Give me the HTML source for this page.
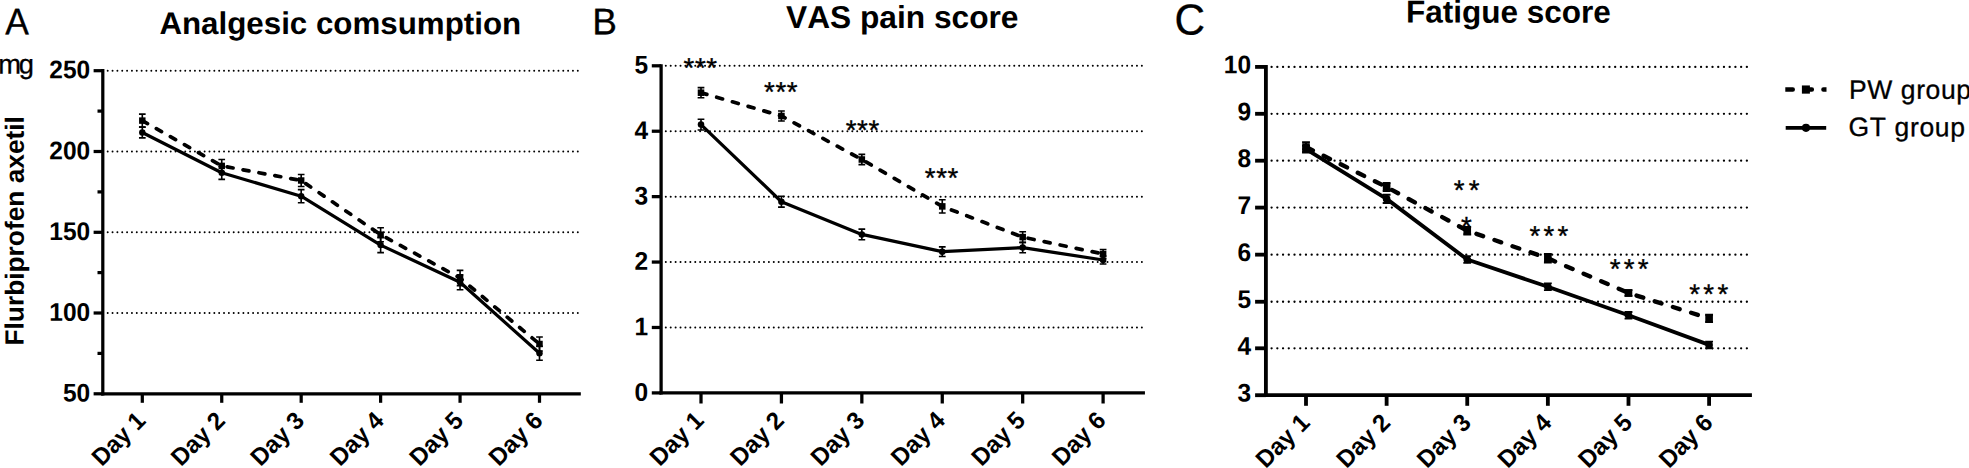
<!DOCTYPE html>
<html lang="en"><head><meta charset="utf-8"><title>Analgesic consumption, VAS pain score, Fatigue score</title>
<style>html,body{margin:0;padding:0;background:#fff;}body{width:1969px;height:468px;overflow:hidden;}svg{display:block;}text{font-family:"Liberation Sans", Arial, Helvetica, sans-serif;fill:#000;font-kerning:none;}.b{font-weight:bold;}</style></head><body>
<svg width="1969" height="468" viewBox="0 0 1969 468">
<rect x="0" y="0" width="1969" height="468" fill="#fff"/>
<g id="chartA">
<g stroke="#000" stroke-width="1.95" stroke-linecap="round" stroke-dasharray="0.01 4.8364" fill="none">
<line x1="107.7" y1="70.7" x2="578.3" y2="70.7"/>
<line x1="107.7" y1="151.5" x2="578.3" y2="151.5"/>
<line x1="107.7" y1="232.3" x2="578.3" y2="232.3"/>
<line x1="107.7" y1="313" x2="578.3" y2="313"/>
</g>
<g stroke="#000" stroke-width="3.23" fill="none" stroke-linecap="butt">
<path d="M102.8 69.08V395.42"/>
<path d="M101.18 393.8H580.82"/>
<path d="M93.61 70.7H102.8"/>
<path d="M93.61 151.5H102.8"/>
<path d="M93.61 232.3H102.8"/>
<path d="M93.61 313H102.8"/>
<path d="M93.61 393.8H102.8"/>
<path d="M97.5 111.1H102.8"/>
<path d="M97.5 191.9H102.8"/>
<path d="M97.5 272.6H102.8"/>
<path d="M97.5 353.4H102.8"/>
<path d="M142.3 393.8V402.8"/>
<path d="M221.74 393.8V402.8"/>
<path d="M301.18 393.8V402.8"/>
<path d="M380.62 393.8V402.8"/>
<path d="M460.06 393.8V402.8"/>
<path d="M539.5 393.8V402.8"/>
</g>
<g class="b" font-size="24.5" text-anchor="end">
<text transform="translate(90.2 78.35) rotate(0.03) scale(1 1.04)">250</text>
<text transform="translate(90.2 159.15) rotate(0.03) scale(1 1.04)">200</text>
<text transform="translate(90.2 239.95) rotate(0.03) scale(1 1.04)">150</text>
<text transform="translate(90.2 320.65) rotate(0.03) scale(1 1.04)">100</text>
<text transform="translate(90.2 401.45) rotate(0.03) scale(1 1.04)">50</text>
</g>
<g class="b" font-size="24" text-anchor="end">
<text transform="translate(146.9 422) rotate(-45) scale(1 1.02)">Day 1</text>
<text transform="translate(226.34 422) rotate(-45) scale(1 1.02)">Day 2</text>
<text transform="translate(305.78 422) rotate(-45) scale(1 1.02)">Day 3</text>
<text transform="translate(385.22 422) rotate(-45) scale(1 1.02)">Day 4</text>
<text transform="translate(464.66 422) rotate(-45) scale(1 1.02)">Day 5</text>
<text transform="translate(544.1 422) rotate(-45) scale(1 1.02)">Day 6</text>
</g>
<polyline points="142.3,120.6 221.74,165.9 301.18,180.5 380.62,234.7 460.06,278 539.5,344" fill="none" stroke="#000" stroke-width="3.72" stroke-linecap="round" stroke-linejoin="round" stroke-dasharray="5.98 10.18" stroke-dashoffset="0"/>
<polyline points="142.3,132.5 221.74,172.8 301.18,196.2 380.62,245.1 460.06,282.2 539.5,353.3" fill="none" stroke="#000" stroke-width="3.23" stroke-linejoin="round"/>
<g stroke="#000" stroke-width="1.62" fill="none">
<path d="M142.3 114.1V127.1M138.97 114.1H145.63M138.97 127.1H145.63"/>
<path d="M221.74 159.5V172.3M218.41 159.5H225.07M218.41 172.3H225.07"/>
<path d="M301.18 174.5V186.5M297.85 174.5H304.51M297.85 186.5H304.51"/>
<path d="M380.62 227.7V241.7M377.29 227.7H383.95M377.29 241.7H383.95"/>
<path d="M460.06 270.4V285.6M456.73 270.4H463.39M456.73 285.6H463.39"/>
<path d="M539.5 337V351M536.17 337H542.83M536.17 351H542.83"/>
<path d="M142.3 127.1V137.9M138.97 127.1H145.63M138.97 137.9H145.63"/>
<path d="M221.74 166.2V179.4M218.41 166.2H225.07M218.41 179.4H225.07"/>
<path d="M301.18 189.6V202.8M297.85 189.6H304.51M297.85 202.8H304.51"/>
<path d="M380.62 237.6V252.6M377.29 237.6H383.95M377.29 252.6H383.95"/>
<path d="M460.06 274.7V289.7M456.73 274.7H463.39M456.73 289.7H463.39"/>
<path d="M539.5 346.3V360.3M536.17 346.3H542.83M536.17 360.3H542.83"/>
</g>
<rect x="139.07" y="117.37" width="6.46" height="6.46"/>
<rect x="218.51" y="162.67" width="6.46" height="6.46"/>
<rect x="297.95" y="177.27" width="6.46" height="6.46"/>
<rect x="377.39" y="231.47" width="6.46" height="6.46"/>
<rect x="456.83" y="274.77" width="6.46" height="6.46"/>
<rect x="536.27" y="340.77" width="6.46" height="6.46"/>
<circle cx="142.3" cy="132.5" r="3.23"/>
<circle cx="221.74" cy="172.8" r="3.23"/>
<circle cx="301.18" cy="196.2" r="3.23"/>
<circle cx="380.62" cy="245.1" r="3.23"/>
<circle cx="460.06" cy="282.2" r="3.23"/>
<circle cx="539.5" cy="353.3" r="3.23"/>
</g>
<g id="chartB">
<g stroke="#000" stroke-width="2" stroke-linecap="round" stroke-dasharray="0.01 4.8978" fill="none">
<line x1="665.8" y1="65.8" x2="1142.36" y2="65.8"/>
<line x1="665.8" y1="131.22" x2="1142.36" y2="131.22"/>
<line x1="665.8" y1="196.64" x2="1142.36" y2="196.64"/>
<line x1="665.8" y1="262.06" x2="1142.36" y2="262.06"/>
<line x1="665.8" y1="327.48" x2="1142.36" y2="327.48"/>
</g>
<g stroke="#000" stroke-width="3.27" fill="none" stroke-linecap="butt">
<path d="M661.1 64.16V394.54"/>
<path d="M659.46 392.9H1144.94"/>
<path d="M651.79 65.8H661.1"/>
<path d="M651.79 131.22H661.1"/>
<path d="M651.79 196.64H661.1"/>
<path d="M651.79 262.06H661.1"/>
<path d="M651.79 327.48H661.1"/>
<path d="M651.79 392.9H661.1"/>
<path d="M701 392.9V403.5"/>
<path d="M781.42 392.9V403.5"/>
<path d="M861.84 392.9V403.5"/>
<path d="M942.26 392.9V403.5"/>
<path d="M1022.68 392.9V403.5"/>
<path d="M1103.1 392.9V403.5"/>
</g>
<g class="b" font-size="24.5" text-anchor="end">
<text transform="translate(648.2 73.55) rotate(0.03) scale(1 1.04)">5</text>
<text transform="translate(648.2 138.97) rotate(0.03) scale(1 1.04)">4</text>
<text transform="translate(648.2 204.39) rotate(0.03) scale(1 1.04)">3</text>
<text transform="translate(648.2 269.81) rotate(0.03) scale(1 1.04)">2</text>
<text transform="translate(648.2 335.23) rotate(0.03) scale(1 1.04)">1</text>
<text transform="translate(648.2 400.65) rotate(0.03) scale(1 1.04)">0</text>
</g>
<g class="b" font-size="24" text-anchor="end">
<text transform="translate(705.1 421.9) rotate(-45) scale(1 1.02)">Day 1</text>
<text transform="translate(785.52 421.9) rotate(-45) scale(1 1.02)">Day 2</text>
<text transform="translate(865.94 421.9) rotate(-45) scale(1 1.02)">Day 3</text>
<text transform="translate(946.36 421.9) rotate(-45) scale(1 1.02)">Day 4</text>
<text transform="translate(1026.78 421.9) rotate(-45) scale(1 1.02)">Day 5</text>
<text transform="translate(1107.2 421.9) rotate(-45) scale(1 1.02)">Day 6</text>
</g>
<polyline points="701,92.7 781.42,116 861.84,159.5 942.26,206.4 1022.68,237.1 1103.1,254" fill="none" stroke="#000" stroke-width="3.76" stroke-linecap="round" stroke-linejoin="round" stroke-dasharray="6.05 10.31" stroke-dashoffset="0"/>
<polyline points="701,124.6 781.42,201.7 861.84,234.4 942.26,251.7 1022.68,247.6 1103.1,260" fill="none" stroke="#000" stroke-width="3.27" stroke-linejoin="round"/>
<g stroke="#000" stroke-width="1.64" fill="none">
<path d="M701 87.6V97.8M697.63 87.6H704.37M697.63 97.8H704.37"/>
<path d="M781.42 111V121M778.05 111H784.79M778.05 121H784.79"/>
<path d="M861.84 154.4V164.6M858.47 154.4H865.21M858.47 164.6H865.21"/>
<path d="M942.26 199.8V213M938.89 199.8H945.63M938.89 213H945.63"/>
<path d="M1022.68 231.7V242.5M1019.31 231.7H1026.05M1019.31 242.5H1026.05"/>
<path d="M1103.1 249.5V258.5M1099.73 249.5H1106.47M1099.73 258.5H1106.47"/>
<path d="M701 119.2V130M697.63 119.2H704.37M697.63 130H704.37"/>
<path d="M781.42 196.3V207.1M778.05 196.3H784.79M778.05 207.1H784.79"/>
<path d="M861.84 229.1V239.7M858.47 229.1H865.21M858.47 239.7H865.21"/>
<path d="M942.26 246.9V256.5M938.89 246.9H945.63M938.89 256.5H945.63"/>
<path d="M1022.68 242.4V252.8M1019.31 242.4H1026.05M1019.31 252.8H1026.05"/>
<path d="M1103.1 256V264M1099.73 256H1106.47M1099.73 264H1106.47"/>
</g>
<rect x="697.73" y="89.43" width="6.54" height="6.54"/>
<rect x="778.15" y="112.73" width="6.54" height="6.54"/>
<rect x="858.57" y="156.23" width="6.54" height="6.54"/>
<rect x="938.99" y="203.13" width="6.54" height="6.54"/>
<rect x="1019.41" y="233.83" width="6.54" height="6.54"/>
<rect x="1099.83" y="250.73" width="6.54" height="6.54"/>
<circle cx="701" cy="124.6" r="3.27"/>
<circle cx="781.42" cy="201.7" r="3.27"/>
<circle cx="861.84" cy="234.4" r="3.27"/>
<circle cx="942.26" cy="251.7" r="3.27"/>
<circle cx="1022.68" cy="247.6" r="3.27"/>
<circle cx="1103.1" cy="260" r="3.27"/>
</g>
<g id="chartC">
<g stroke="#000" stroke-width="2.3" stroke-linecap="round" stroke-dasharray="0.01 5.7160" fill="none">
<line x1="1271.6" y1="66.9" x2="1747.36" y2="66.9"/>
<line x1="1271.6" y1="113.8" x2="1747.36" y2="113.8"/>
<line x1="1271.6" y1="160.7" x2="1747.36" y2="160.7"/>
<line x1="1271.6" y1="207.6" x2="1747.36" y2="207.6"/>
<line x1="1271.6" y1="254.65" x2="1747.36" y2="254.65"/>
<line x1="1271.6" y1="301.75" x2="1747.36" y2="301.75"/>
<line x1="1271.6" y1="348.3" x2="1747.36" y2="348.3"/>
</g>
<g stroke="#000" stroke-width="3.82" fill="none" stroke-linecap="butt">
<path d="M1265.9 64.99V397.11"/>
<path d="M1263.99 395.2H1751.91"/>
<path d="M1255.1 66.9H1265.9"/>
<path d="M1255.1 113.8H1265.9"/>
<path d="M1255.1 160.7H1265.9"/>
<path d="M1255.1 207.6H1265.9"/>
<path d="M1255.1 254.65H1265.9"/>
<path d="M1255.1 301.75H1265.9"/>
<path d="M1255.1 348.3H1265.9"/>
<path d="M1255.1 395.2H1265.9"/>
<path d="M1306 395.2V405.8"/>
<path d="M1386.62 395.2V405.8"/>
<path d="M1467.24 395.2V405.8"/>
<path d="M1547.86 395.2V405.8"/>
<path d="M1628.48 395.2V405.8"/>
<path d="M1709.1 395.2V405.8"/>
</g>
<g class="b" font-size="24.5" text-anchor="end">
<text transform="translate(1251.1 73.25) rotate(0.03) scale(1 1.04)">10</text>
<text transform="translate(1251.1 120.15) rotate(0.03) scale(1 1.04)">9</text>
<text transform="translate(1251.1 167.05) rotate(0.03) scale(1 1.04)">8</text>
<text transform="translate(1251.1 213.95) rotate(0.03) scale(1 1.04)">7</text>
<text transform="translate(1251.1 261) rotate(0.03) scale(1 1.04)">6</text>
<text transform="translate(1251.1 308.1) rotate(0.03) scale(1 1.04)">5</text>
<text transform="translate(1251.1 354.65) rotate(0.03) scale(1 1.04)">4</text>
<text transform="translate(1251.1 401.55) rotate(0.03) scale(1 1.04)">3</text>
</g>
<g class="b" font-size="24" text-anchor="end">
<text transform="translate(1311.1 424) rotate(-45) scale(1 1.02)">Day 1</text>
<text transform="translate(1391.72 424) rotate(-45) scale(1 1.02)">Day 2</text>
<text transform="translate(1472.34 424) rotate(-45) scale(1 1.02)">Day 3</text>
<text transform="translate(1552.96 424) rotate(-45) scale(1 1.02)">Day 4</text>
<text transform="translate(1633.58 424) rotate(-45) scale(1 1.02)">Day 5</text>
<text transform="translate(1714.2 424) rotate(-45) scale(1 1.02)">Day 6</text>
</g>
<polyline points="1306,147 1386.62,187.1 1467.24,230.7 1547.86,258.3 1628.48,293 1709.1,318.45" fill="none" stroke="#000" stroke-width="4.39" stroke-linecap="round" stroke-linejoin="round" stroke-dasharray="7.06 12.02" stroke-dashoffset="-0.6"/>
<polyline points="1306,149.2 1386.62,198.9 1467.24,259.5 1547.86,286.75 1628.48,315.3 1709.1,344.9" fill="none" stroke="#000" stroke-width="3.82" stroke-linejoin="round"/>
<g stroke="#000" stroke-width="1.91" fill="none">
<path d="M1306 142.15V151.85M1302.07 142.15H1309.93M1302.07 151.85H1309.93"/>
<path d="M1386.62 183.05V191.15M1382.69 183.05H1390.55M1382.69 191.15H1390.55"/>
<path d="M1467.24 226.85V234.55M1463.31 226.85H1471.17M1463.31 234.55H1471.17"/>
<path d="M1547.86 254.05V262.55M1543.93 254.05H1551.79M1543.93 262.55H1551.79"/>
<path d="M1628.48 290.1V295.9M1624.55 290.1H1632.41M1624.55 295.9H1632.41"/>
<path d="M1709.1 314.75V322.15M1705.17 314.75H1713.03M1705.17 322.15H1713.03"/>
<path d="M1306 145.9V152.5M1302.07 145.9H1309.93M1302.07 152.5H1309.93"/>
<path d="M1386.62 194.75V203.05M1382.69 194.75H1390.55M1382.69 203.05H1390.55"/>
<path d="M1467.24 256.1V262.9M1463.31 256.1H1471.17M1463.31 262.9H1471.17"/>
<path d="M1547.86 283.35V290.15M1543.93 283.35H1551.79M1543.93 290.15H1551.79"/>
<path d="M1628.48 312V318.6M1624.55 312H1632.41M1624.55 318.6H1632.41"/>
<path d="M1709.1 341.6V348.2M1705.17 341.6H1713.03M1705.17 348.2H1713.03"/>
</g>
<rect x="1302.18" y="143.18" width="7.63" height="7.63"/>
<rect x="1382.8" y="183.28" width="7.63" height="7.63"/>
<rect x="1463.42" y="226.88" width="7.63" height="7.63"/>
<rect x="1544.04" y="254.48" width="7.63" height="7.63"/>
<rect x="1624.66" y="289.18" width="7.63" height="7.63"/>
<rect x="1705.28" y="314.63" width="7.63" height="7.63"/>
<circle cx="1306" cy="149.2" r="3.82"/>
<circle cx="1386.62" cy="198.9" r="3.82"/>
<circle cx="1467.24" cy="259.5" r="3.82"/>
<circle cx="1547.86" cy="286.75" r="3.82"/>
<circle cx="1628.48" cy="315.3" r="3.82"/>
<circle cx="1709.1" cy="344.9" r="3.82"/>
</g>
<text transform="translate(159.4 34) rotate(0.03)" font-size="31.3" class="b">Analgesic comsumption</text>
<text transform="translate(786 27.9) rotate(0.03)" font-size="31.7" class="b">VAS pain score</text>
<text transform="translate(1405.9 22.6) rotate(0.03)" font-size="31.5" class="b">Fatigue score</text>
<text transform="translate(5.3 34.15) rotate(0.03) scale(1 1.045)" font-size="35.4" stroke="#000" stroke-width="0.3">A</text>
<text transform="translate(592.3 34.3) rotate(0.03)" font-size="37" stroke="#000" stroke-width="0.3">B</text>
<text transform="translate(1174.5 34.45) rotate(0.03) scale(1 1.03)" font-size="42.2" stroke="#000" stroke-width="0.3">C</text>
<text transform="translate(0 73.6) rotate(0.03)" x="-1.7 18.8" y="0" font-size="27.3" stroke="#000" stroke-width="0.3">mg</text>
<text transform="translate(23.6 345.5) rotate(-89.97)" font-size="26.3" class="b">Flurbiprofen axetil</text>
<g id="legend">
<clipPath id="lc"><rect x="1785.3" y="80" width="41.2" height="20"/></clipPath>
<path d="M1785.2 89.55H1830" clip-path="url(#lc)" fill="none" stroke="#000" stroke-width="4.4" stroke-linecap="round" stroke-dasharray="7.6 11.5"/>
<rect x="1801.9" y="85.45" width="8" height="8.2"/>
<path d="M1785.7 127.8H1826.2" fill="none" stroke="#000" stroke-width="3.7"/>
<circle cx="1806" cy="127.8" r="4.1"/>
<text transform="translate(1849 98.7) rotate(0.03)" font-size="26.5" stroke="#000" stroke-width="0.3" textLength="122" lengthAdjust="spacing">PW group</text>
<text transform="translate(1848.5 136.1) rotate(0.03)" font-size="26.5" stroke="#000" stroke-width="0.3" textLength="116.5" lengthAdjust="spacing">GT group</text>
</g>
<g id="stars">
<text font-size="27.6" stroke="#000" stroke-width="0.35" transform="translate(683.55 77.33) rotate(0.03)" x="0 11.35 22.7" y="0">***</text>
<text font-size="27.6" stroke="#000" stroke-width="0.35" transform="translate(764.05 101.23) rotate(0.03)" x="0 11.35 22.7" y="0">***</text>
<text font-size="27.6" stroke="#000" stroke-width="0.35" transform="translate(845.75 139.43) rotate(0.03)" x="0 11.35 22.7" y="0">***</text>
<text font-size="27.6" stroke="#000" stroke-width="0.35" transform="translate(924.86 187.33) rotate(0.03)" x="0 11.35 22.7" y="0">***</text>
<text font-size="27.6" stroke="#000" stroke-width="0.35" transform="translate(1453.86 199.43) rotate(0.03)" x="0 14.9" y="0">**</text>
<text font-size="27.6" stroke="#000" stroke-width="0.35" transform="translate(1460.96 236.03) rotate(0.03)" x="0" y="0">*</text>
<text font-size="27.6" stroke="#000" stroke-width="0.35" transform="translate(1529.56 245.13) rotate(0.03)" x="0 14 28" y="0">***</text>
<text font-size="27.6" stroke="#000" stroke-width="0.35" transform="translate(1609.76 278.13) rotate(0.03)" x="0 14 28" y="0">***</text>
<text font-size="27.6" stroke="#000" stroke-width="0.35" transform="translate(1689.26 303.53) rotate(0.03)" x="0 14.1 28.2" y="0">***</text>
</g>
</svg></body></html>
